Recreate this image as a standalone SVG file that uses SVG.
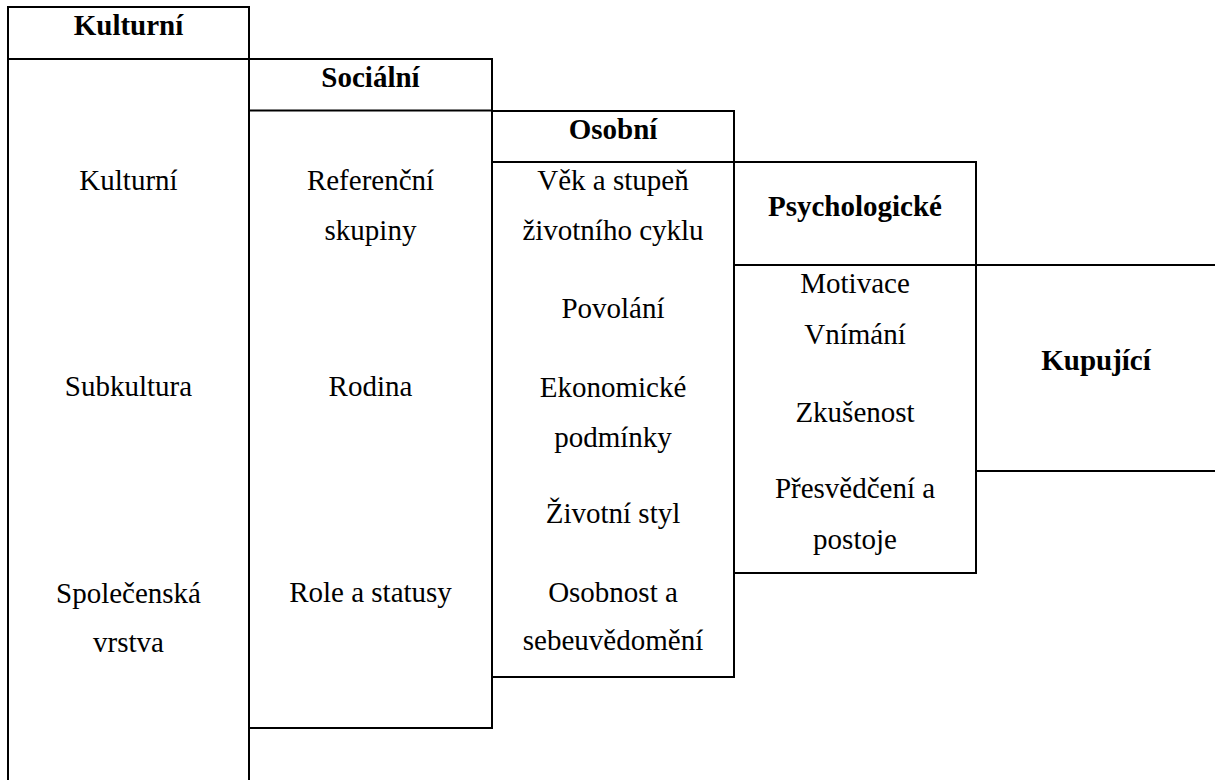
<svg xmlns="http://www.w3.org/2000/svg" width="1215" height="780" viewBox="0 0 1215 780">
<style>
.box{fill:none;stroke:#000;stroke-width:2}
.div{stroke:#000;stroke-width:2}
text{font-family:"Liberation Serif","Times New Roman",serif;font-size:29px;fill:#000;text-anchor:middle}
.h{font-weight:bold}
</style>
<rect width="1215" height="780" fill="#fff"/>
<g id="kulturni">
<rect class="box" x="8" y="7" width="241" height="800"/>
<line class="div" x1="8" y1="59" x2="249" y2="59"/>
<text class="h" x="128.5" y="35">Kulturní</text>
<text x="128.5" y="190">Kulturní</text>
<text x="128.5" y="396">Subkultura</text>
<text x="128.5" y="603">Společenská</text>
<text x="128.5" y="652">vrstva</text>
</g>
<g id="socialni">
<rect class="box" x="249" y="59" width="243" height="669"/>
<line class="div" x1="249" y1="110.5" x2="492" y2="110.5"/>
<text class="h" x="370.5" y="87">Sociální</text>
<text x="370.5" y="190">Referenční</text>
<text x="370.5" y="240">skupiny</text>
<text x="370.5" y="396">Rodina</text>
<text x="370.5" y="602">Role a statusy</text>
</g>
<g id="osobni">
<rect class="box" x="492" y="111" width="242" height="566"/>
<line class="div" x1="492" y1="162" x2="734" y2="162"/>
<text class="h" x="613" y="139">Osobní</text>
<text x="613" y="189.5">Věk a stupeň</text>
<text x="613" y="240">životního cyklu</text>
<text x="613" y="318">Povolání</text>
<text x="613" y="396.5">Ekonomické</text>
<text x="613" y="446.5">podmínky</text>
<text x="613" y="523">Životní styl</text>
<text x="613" y="602">Osobnost a</text>
<text x="613" y="650">sebeuvědomění</text>
</g>
<g id="psychologicke">
<rect class="box" x="734" y="162" width="242" height="411"/>
<line class="div" x1="734" y1="265" x2="976" y2="265"/>
<text class="h" x="855" y="215.5">Psychologické</text>
<text x="855" y="292.5">Motivace</text>
<text x="855" y="344">Vnímání</text>
<text x="855" y="421.5">Zkušenost</text>
<text x="855" y="498">Přesvědčení a</text>
<text x="855" y="548.5">postoje</text>
</g>
<g id="kupujici">
<rect class="box" x="976" y="265" width="260" height="206"/>
<text class="h" x="1096" y="370">Kupující</text>
</g>
<g id="connectors"></g>
</svg>
